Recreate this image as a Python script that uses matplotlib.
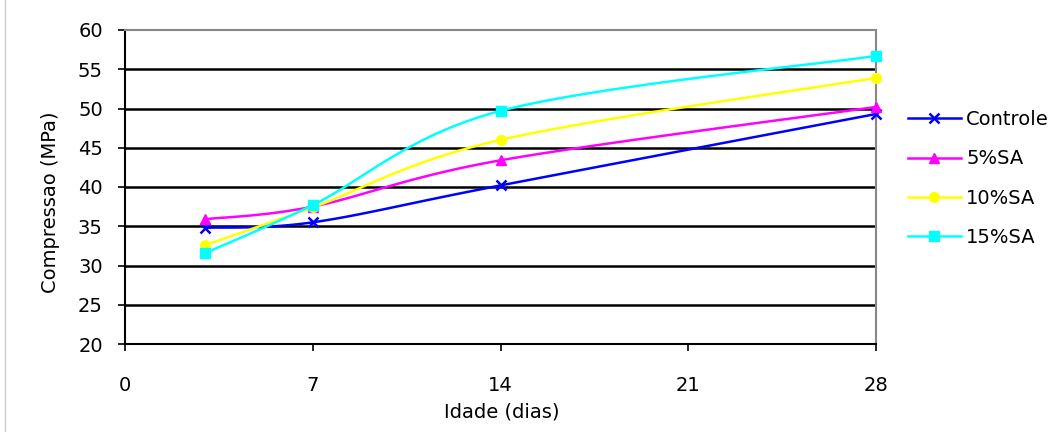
import numpy as np
import matplotlib
matplotlib.use("Agg")
import matplotlib.pyplot as plt
from matplotlib.lines import Line2D

plt.rcParams['font.family'] = ['DejaVu Sans']

idade = [3, 7, 14, 28]
controle = [34.8, 35.5, 40.2, 49.3]
sa5 = [35.9, 37.5, 43.4, 50.2]
sa10 = [32.6, 37.4, 46.0, 53.9]
sa15 = [31.6, 37.7, 49.7, 56.7]

series = [
    ("Controle", controle, "#0000FF", "x", 6.5),
    ("5%SA", sa5, "#FF00FF", "^", 7),
    ("10%SA", sa10, "#FFFF00", "o", 7),
    ("15%SA", sa15, "#00FFFF", "s", 6.5),
]

def smooth(xs, ys, n=40):
    # Excel-style smoothing (cubic Bezier with 1/6 tension)
    xs = np.asarray(xs, float); ys = np.asarray(ys, float)
    px = np.concatenate([[xs[0]], xs, [xs[-1]]])
    py = np.concatenate([[ys[0]], ys, [ys[-1]]])
    ox, oy = [], []
    t = np.linspace(0, 1, n)
    for i in range(1, len(px) - 2):
        p0 = np.array([px[i], py[i]]); p3 = np.array([px[i+1], py[i+1]])
        p1 = p0 + (np.array([px[i+1], py[i+1]]) - np.array([px[i-1], py[i-1]])) / 6
        p2 = p3 - (np.array([px[i+2], py[i+2]]) - np.array([px[i], py[i]])) / 6
        b = ((1-t)**3)[:, None]*p0 + (3*(1-t)**2*t)[:, None]*p1 + (3*(1-t)*t**2)[:, None]*p2 + (t**3)[:, None]*p3
        ox.extend(b[:, 0]); oy.extend(b[:, 1])
    return ox, oy

fig = plt.figure(figsize=(10.57, 4.32), dpi=100)
ax = fig.add_axes([125/1057, 1-344/432, (876-125)/1057, (344-30)/432])

for y in range(25, 60, 5):
    ax.axhline(y, color='black', lw=1.8, zorder=1)

handles = []
for name, vals, c, m, ms in series:
    sx, sy = smooth(idade, vals)
    ax.plot(sx, sy, color=c, lw=1.8, zorder=3, clip_on=False)
    mew = 1.8 if m == 'x' else 1
    ax.plot(idade, vals, linestyle='none', marker=m, color=c, ms=ms, mew=mew, zorder=4, clip_on=False)
    handles.append(Line2D([], [], color=c, lw=1.8, marker=m, ms=ms, mew=mew))

ax.set_xlim(0, 28)
ax.set_ylim(20, 60)
ax.set_xticks([0, 7, 14, 21, 28])
ax.set_yticks(range(20, 61, 5))
ax.tick_params(direction='out', length=5, width=1.2, labelsize=14, colors='black')
ax.tick_params(axis='x', pad=18)
ax.tick_params(axis='y', pad=11)
for s in ['top', 'right']:
    ax.spines[s].set_color('#888888')
    ax.spines[s].set_linewidth(1.5)
for s in ['left', 'bottom']:
    ax.spines[s].set_color('black')
    ax.spines[s].set_linewidth(1.5)

ax.set_xlabel("Idade (dias)", fontsize=14)
ax.set_ylabel("Compressao (MPa)", fontsize=14)
ax.xaxis.set_label_coords((502-125)/751, (344-403)/314)
ax.yaxis.set_label_coords((60-125)/751, 0.5 - 15/314)

fig.legend(handles, [s[0] for s in series], loc='upper left',
           bbox_to_anchor=(908/1057, 1-110/432), frameon=False,
           fontsize=14, handlelength=2.7, labelspacing=1.05, handletextpad=0.3,
           borderaxespad=0, borderpad=0)

fig.add_artist(Line2D([5/1057, 5/1057], [0, 1], transform=fig.transFigure, color='#cccccc', lw=1))

fig.savefig("out.png", dpi=100)
